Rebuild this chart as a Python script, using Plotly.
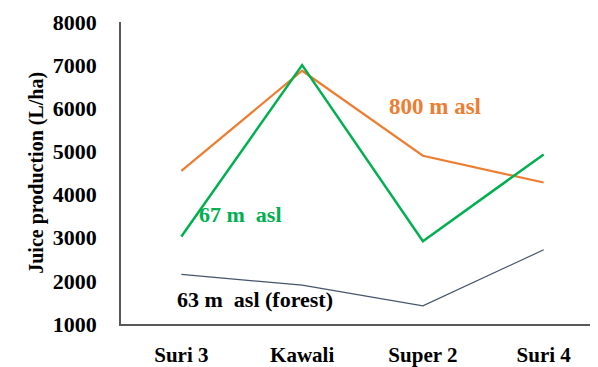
import plotly.graph_objects as go

categories = ["Suri 3", "Kawali", "Super 2", "Suri 4"]
alt800 = [4550, 6870, 4900, 4280]
alt67 = [3030, 7000, 2920, 4930]
alt63_forest = [2150, 1900, 1420, 2720]
y_ticks = [1000, 2000, 3000, 4000, 5000, 6000, 7000, 8000]

FONT = "Liberation Serif"

fig = go.Figure()
fig.add_trace(go.Scatter(x=categories, y=alt63_forest, mode="lines",
                         line=dict(color="#44546A", width=1.2), name="63 m asl (forest)"))
fig.add_trace(go.Scatter(x=categories, y=alt800, mode="lines",
                         line=dict(color="#ED7D31", width=2.2), name="800 m asl"))
fig.add_trace(go.Scatter(x=categories, y=alt67, mode="lines",
                         line=dict(color="#00B050", width=2.5), name="67 m asl"))

fig.update_layout(
    width=590, height=359,
    margin=dict(l=113, r=0, t=14, b=43),
    plot_bgcolor="white", paper_bgcolor="white",
    showlegend=False,
    font=dict(family=FONT, color="black"),
    xaxis=dict(type="category", range=[-0.5, 3.45], showgrid=False, zeroline=False,
               showline=True, linecolor="#595959", linewidth=1.5,
               ticks="outside", ticklen=11, tickcolor="rgba(0,0,0,0)",
               tickfont=dict(family=FONT, size=21, color="black", weight="bold"),
               automargin=False),
    yaxis=dict(range=[1000, 8000], tickvals=y_ticks, showgrid=False, zeroline=False,
               showline=True, linecolor="#595959", linewidth=1.5,
               ticks="outside", ticklen=18, tickcolor="rgba(0,0,0,0)",
               tickfont=dict(family=FONT, size=22, color="black", weight="bold"),
               automargin=False),
)

fig.add_annotation(text="<b>Juice production (L/ha)</b>", xref="paper", yref="paper",
                   x=-0.207, y=0.5, textangle=-90, showarrow=False,
                   font=dict(family=FONT, size=20, color="black"))
fig.add_annotation(text="<b>800 m asl</b>", x=1.70, y=6035, xanchor="left", yanchor="middle",
                   showarrow=False, font=dict(family=FONT, size=23, color="#ED7D31"))
fig.add_annotation(text="<b>67 m&nbsp; asl</b>", x=0.13, y=3540, xanchor="left", yanchor="middle",
                   showarrow=False, font=dict(family=FONT, size=22, color="#00B050"))
fig.add_annotation(text="<b>63 m&nbsp; asl (forest)</b>", x=-0.05, y=1570, xanchor="left", yanchor="middle",
                   showarrow=False, font=dict(family=FONT, size=22, color="black"))

fig.write_html("out.html")
